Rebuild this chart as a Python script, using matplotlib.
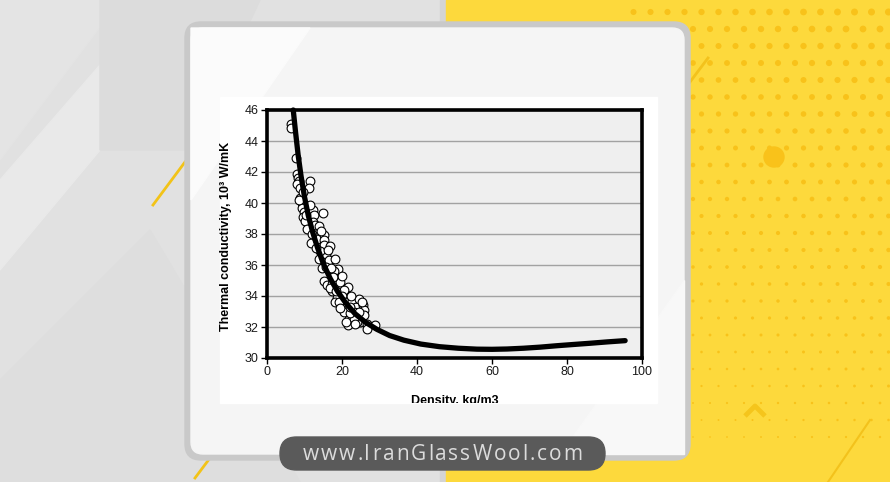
import numpy as np
import matplotlib
matplotlib.use("Agg")
import matplotlib.pyplot as plt
from matplotlib.patches import Rectangle, FancyBboxPatch, Circle, Polygon

# ---------------- data ----------------
curve_density = [7.0, 7.6, 8.3, 9.1, 10.0, 11.0, 12.2, 13.5, 15.0, 16.8, 18.8, 21.0,
                 23.5, 26.3, 29.3, 32.7, 36.5, 41.0, 46.0, 51.0, 56.0, 60.0, 64.0,
                 68.4, 72.8, 77.2, 81.6, 86.1, 90.8, 95.5]
curve_conductivity = [46.0, 44.6, 43.1, 41.7, 40.4, 39.2, 38.1, 37.1, 36.1, 35.15, 34.3,
                      33.55, 32.85, 32.3, 31.85, 31.45, 31.15, 30.9, 30.73, 30.63, 30.57,
                      30.56, 30.58, 30.63, 30.7, 30.79, 30.87, 30.95, 31.04, 31.12]

meas_density = [6.4, 6.5, 7.8, 7.9, 8.3, 8.6, 8.0, 8.8, 11.4, 11.1,
                8.9, 9.3, 9.3, 9.8, 9.6, 10.2, 10.7, 12.3, 12.4, 12.3,
                14.8, 11.6, 12.9, 13.8, 14.0, 13.3, 15.3, 15.3, 15.1, 16.9,
                13.8, 14.7, 15.8, 16.4, 15.8, 18.2, 18.8, 17.8, 15.1, 16.1,
                17.3, 18.2, 19.4, 21.6, 20.4, 19.9, 18.7, 20.9, 21.3, 21.8,
                20.4, 22.7, 23.6, 23.1, 24.4, 25.6, 25.8, 25.9, 24.9, 24.0, 23.1,
                26.7, 26.6, 28.7, 21.6, 21.1, 22.2, 17.2, 16.8, 18.0, 19.2,
                20.0, 17.7, 14.2, 13.0, 12.0, 10.5, 11.5, 9.5, 8.4,
                22.5, 24.5, 25.2, 22.0, 23.5, 19.5, 18.5, 17.0, 16.2, 14.5]
meas_conductivity = [45.1, 44.85, 42.9, 41.85, 41.6, 41.45, 41.2, 40.95, 41.45, 41.0,
                     40.35, 40.0, 39.65, 39.45, 39.1, 38.85, 38.3, 39.55, 39.2, 38.8,
                     39.35, 37.4, 38.6, 38.5, 37.95, 37.7, 37.95, 37.6, 37.3, 37.25,
                     36.4, 35.8, 36.7, 36.3, 35.9, 36.4, 35.75, 35.6, 35.0, 34.7,
                     34.8, 35.0, 34.9, 34.6, 34.4, 34.0, 33.9, 33.6, 33.0, 32.5,
                     33.0, 33.7, 33.3, 33.0, 33.8, 33.4, 33.1, 32.8, 32.3, 32.3, 32.5,
                     32.2, 31.85, 32.1, 32.1, 32.3, 32.9, 34.3, 34.5, 33.6, 33.6,
                     35.3, 35.2, 36.9, 37.1, 38.0, 39.2, 39.9, 40.7, 40.2,
                     34.0, 33.0, 33.6, 33.3, 32.2, 33.2, 34.3, 35.8, 37.0, 38.2]

x_ticks = [0, 20, 40, 60, 80, 100]
y_ticks = [30, 32, 34, 36, 38, 40, 42, 44, 46]
x_label = "Density, kg/m3"
y_label = "Thermal conductivity, 10\u00b3 W/mK"
site_text = "www.IranGlassWool.com"

# ---------------- figure ----------------
W, H = 890, 482
fig = plt.figure(figsize=(W / 100, H / 100), dpi=100)
bg = fig.add_axes([0, 0, 1, 1])
bg.set_xlim(0, W)
bg.set_ylim(H, 0)
bg.axis("off")

# left gray background with soft diagonal shapes
bg.add_patch(Rectangle((0, 0), 446, H, color="#e1e1e1", zorder=0))
bg.add_patch(Polygon([(0, 0), (120, 0), (0, 160)], color="#e4e4e4", zorder=0.1))
bg.add_patch(Polygon([(0, 180), (100, 65), (100, 150), (0, 270)], color="#e9e9e9", zorder=0.1))
bg.add_patch(Polygon([(100, 0), (260, 0), (190, 150), (100, 150)], color="#dcdcdc", zorder=0.1))
bg.add_patch(Polygon([(0, 482), (0, 380), (150, 230), (300, 482)], color="#dedede", zorder=0.1))
bg.add_patch(Rectangle((440, 0), 6, H, color="#d4d4d4", zorder=0.2))

# yellow right background with dot pattern
bg.add_patch(Rectangle((446, 0), W - 446, H, color="#fdd93c", zorder=0.2))
gx, gy = np.meshgrid(np.arange(625, 900, 17.0), np.arange(-5, 440, 17.0))
gx = gx + (np.arange(gy.shape[0])[:, None] % 2) * 8.5
r = np.clip(3.6 - 0.0055 * gy - 0.002 * (890 - gx), 0, None)
m = r > 0.4
bg.scatter(gx[m], gy[m], s=(r[m] * 1.44) ** 2, color="#f8c21a", lw=0, zorder=0.3)
bg.add_patch(Circle((774, 157), 10, color="#f9c21a", zorder=0.3))
bg.plot([870, 828], [420, 482], color="#f3c21c", lw=1.5, zorder=0.3)
bg.plot([745, 755, 765], [416, 406, 416], color="#f5c51c", lw=3.5, zorder=0.3,
        solid_capstyle="butt")
bg.plot([690, 708], [82, 58], color="#f3c21c", lw=2, zorder=0.3)
bg.plot([153, 185], [205, 162], color="#f2c318", lw=2, zorder=0.3)
bg.plot([195, 210], [478, 458], color="#f2c318", lw=2, zorder=0.3)

# card
bg.add_patch(FancyBboxPatch((185, 22), 505, 438, boxstyle="round,pad=0,rounding_size=16",
                            color="#c9c9c9", zorder=1))
bg.add_patch(FancyBboxPatch((191, 28), 493, 426, boxstyle="round,pad=0,rounding_size=12",
                            color="#f5f5f5", zorder=1.1))
bg.add_patch(Polygon([(191, 28), (310, 28), (191, 200)], color="#fbfbfb", zorder=1.15))
bg.add_patch(Polygon([(684, 280), (684, 454), (560, 454)], color="#f8f8f8", zorder=1.15))
panel = Rectangle((220, 97), 437, 306, color="white", zorder=1.2)
bg.add_patch(panel)

# pill with website (letter-spaced text)
bg.add_patch(FancyBboxPatch((280, 437), 325, 33, boxstyle="round,pad=0,rounding_size=16.5",
                            color="#5a5a5a", zorder=2))
renderer = fig.canvas.get_renderer()
tprops = dict(color="#dcdcdc", fontsize=15, family="Open Sans", va="center", zorder=3)


def text_width(s):
    t = bg.text(0, 0, s, **tprops)
    w = t.get_window_extent(renderer).width
    t.remove()
    return w


prefix = [0.0] + [text_width(site_text[:i + 1]) for i in range(len(site_text))]
natural = prefix[-1]
target_left, target_width = 303, 279
gap = (target_width - natural) / (len(site_text) - 1)
for i, ch in enumerate(site_text):
    bg.text(target_left + prefix[i] + i * gap, 455, ch, ha="left", **tprops)

# ---------------- chart ----------------
ax = fig.add_axes([267 / W, (H - 358) / H, 375 / W, 248 / H])
ax.set_zorder(5)
ax.set_facecolor("#efefef")
ax.set_xlim(0, 100)
ax.set_ylim(30, 46)
ax.set_xticks(x_ticks)
ax.set_yticks(y_ticks)
ax.grid(axis="y", color="#a2a2a2", lw=1)
ax.set_axisbelow(True)
for s in ax.spines.values():
    s.set_linewidth(2.6)
    s.set_color("black")
ax.tick_params(direction="out", length=4, width=1, labelsize=9, pad=2,
               labelcolor="#1a1a1a")
for lab in ax.get_xticklabels() + ax.get_yticklabels():
    lab.set_family("Liberation Sans")

ax.scatter(meas_density, meas_conductivity, s=40, facecolor="white", edgecolor="black",
           lw=0.8, zorder=3, clip_on=False)
ax.plot(curve_density, curve_conductivity, color="black", lw=3.8, zorder=4,
        solid_capstyle="round", solid_joinstyle="round", clip_on=False)

ax.set_ylabel(y_label, family="Liberation Sans", fontweight="bold", fontsize=9)
ax.yaxis.set_label_coords(-0.093, 0.49)
ax.set_xlabel(x_label, family="Liberation Sans", fontweight="bold", fontsize=9, va="top")
ax.xaxis.set_label_coords(0.5, -0.148)
clip = Rectangle((220, 97), 437, 306, transform=bg.transData)
ax.xaxis.label.set_clip_path(clip)

fig.savefig("out.png", dpi=100)
